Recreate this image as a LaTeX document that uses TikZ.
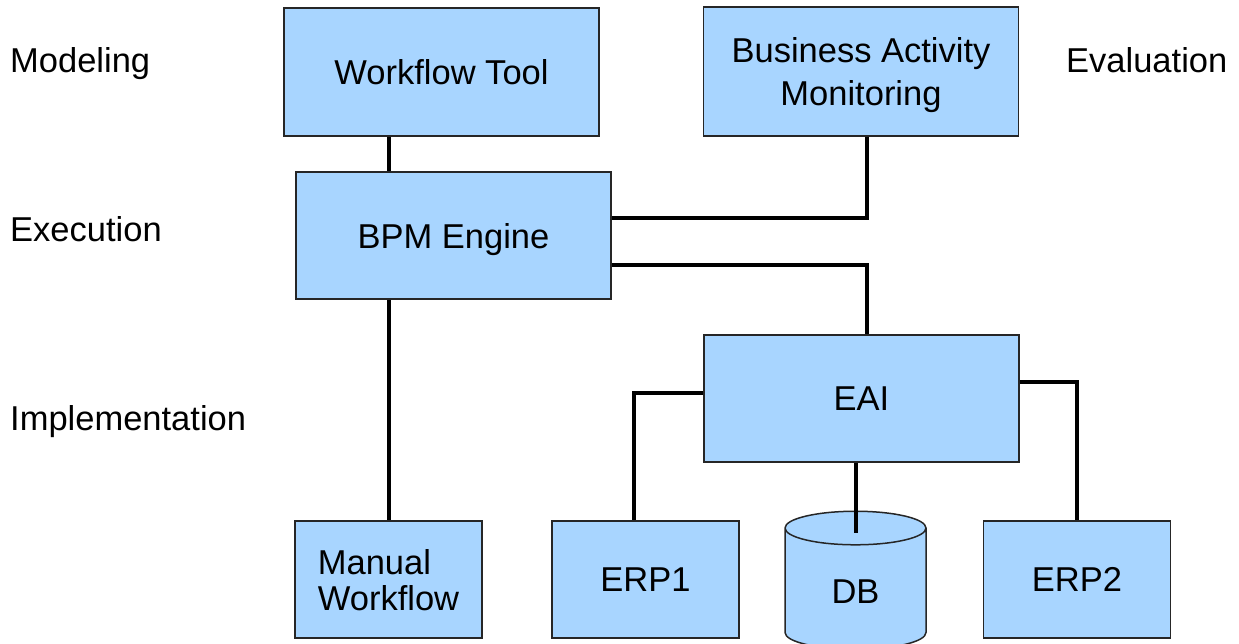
\documentclass[tikz,border=0pt]{standalone}
\usepackage{fontspec}
\setmainfont{Liberation Sans}
\usetikzlibrary{shapes.geometric}

\definecolor{boxblue}{RGB}{168,213,255}
\definecolor{capblue}{RGB}{190,224,255}

\tikzset{
	box/.style={draw=black!85, line width=1.5pt, fill=boxblue, inner sep=0pt, align=center, text depth=0pt, font=\fontsize{34.5}{43}\selectfont},
	wide/.style={box, minimum width=315pt, minimum height=127pt},
	narrow/.style={box, minimum width=187pt, minimum height=117pt},
	link/.style={black, line width=4pt},
	layer/.style={anchor=base west, inner sep=0pt, font=\fontsize{34.5}{43}\selectfont},
}

\begin{document}
\begin{tikzpicture}[x=1pt, y=-1pt]
		\useasboundingbox (0,0) rectangle (1239,643);
		% layer names
		\node (modeling) at (10,72)[layer]{Modeling};
		\node (execution) at (10,241)[layer]{Execution};
		\node (implementation) at (10,430)[layer]{Implementation};
		\node (evaluation) at (1066,72)[layer]{Evaluation};
		% boxes
		\node (wft) at (441.5,72)[wide, minimum height=128pt]{Workflow Tool};
		\node (bam) at (861,71.5)[wide, minimum height=129pt]{Business Activity\\Monitoring};
		\node (bpm) at (453.5,235.5)[wide]{BPM Engine};
		\node (eai) at (861.5,398.5)[wide]{EAI};
		\node (man) at (388.5,579.5)[narrow, align=left, font=\fontsize{34.5}{36}\selectfont]{Manual\\Workflow};
		\node (erp1) at (645.5,579.5)[narrow]{ERP1};
		\node (erp2) at (1077,579.5)[narrow]{ERP2};
		\node (db) at (855.5,589)[box, cylinder, shape border rotate=90, aspect=0.7, minimum width=141pt, minimum height=138pt, cylinder uses custom fill, cylinder body fill=boxblue, cylinder end fill=capblue]{\raisebox{-5pt}{DB}};
		\coordinate (dbtap) at ([yshift=-23pt]db.top);
		% connectors
		\draw[link] (wft.south -| man.north) -- (bpm.north -| man.north);
		\draw[link] (bpm.south -| man.north) -- (man.north);
		\draw[link] ([xshift=6pt]bam.south) |- ([yshift=17.5pt]bpm.east);
		\draw[link] ([yshift=-29.5pt]bpm.east) -| ([xshift=5.5pt]eai.north);
		\draw[link] ([yshift=5.5pt]eai.west) -| ([xshift=-11.5pt]erp1.north);
		\draw[link] ([yshift=16.5pt]eai.east) -| (erp2.north);
		\draw[link] (eai.south -| dbtap) -- (dbtap);
	\end{tikzpicture}
\end{document}
